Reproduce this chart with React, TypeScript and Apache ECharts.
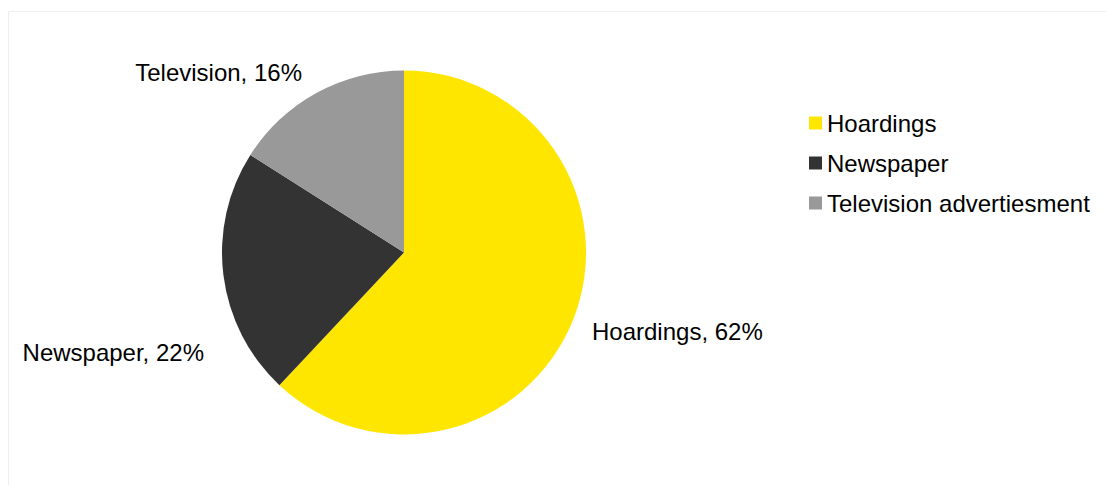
import React, { useEffect, useRef } from "react";
import * as echarts from "echarts";

const categories = ["Hoardings", "Newspaper", "Television advertiesment"];
const shortNames = ["Hoardings", "Newspaper", "Television"];
const values = [62, 22, 16];
const colors = ["#FFE600", "#333333", "#999999"];
const labelPositions = [
  { x: 592, y: 331, align: "left" },
  { x: 204, y: 352, align: "right" },
  { x: 302, y: 72, align: "right" },
];

export default function App() {
  const ref = useRef<HTMLDivElement>(null);
  useEffect(() => {
    document.body.style.margin = "0";
    const chart = echarts.init(ref.current!, null, { renderer: "svg" });
    const font = "'Liberation Sans', Arial, sans-serif";
    chart.setOption({
      animation: false,
      graphic: [
        {
          type: "rect",
          shape: { x: 8.5, y: 11.5, width: 1110, height: 480 },
          style: { fill: "none", stroke: "#eeeeee", lineWidth: 1 },
          silent: true,
        },
      ],
      legend: {
        orient: "vertical",
        left: 804,
        top: 106,
        itemWidth: 13,
        itemHeight: 13,
        itemGap: 16,
        icon: "rect",
        textStyle: { fontSize: 24, color: "#000", lineHeight: 24, fontFamily: font },
        data: categories,
      },
      series: [
        {
          type: "pie",
          center: [404, 252.5],
          radius: 182,
          startAngle: 90,
          clockwise: true,
          silent: true,
          avoidLabelOverlap: false,
          data: categories.map((c, i) => ({
            name: c,
            value: values[i],
            itemStyle: { color: colors[i] },
            label: {
              formatter: `${shortNames[i]}, ${values[i]}%`,
            },
          })),
          label: {
            show: true,
            position: "outside",
            fontSize: 24,
            color: "#000",
            fontFamily: font,
            overflow: "none",
            edgeDistance: 0,
          },
          labelLine: { show: false },
          labelLayout: (params: any) => {
            const p = labelPositions[params.dataIndex];
            return {
              x: p.x,
              y: p.y,
              align: p.align,
              verticalAlign: "middle",
            };
          },
        },
      ],
    });
    return () => chart.dispose();
  }, []);
  return <div ref={ref} style={{ width: 1106, height: 485 }} />;
}
